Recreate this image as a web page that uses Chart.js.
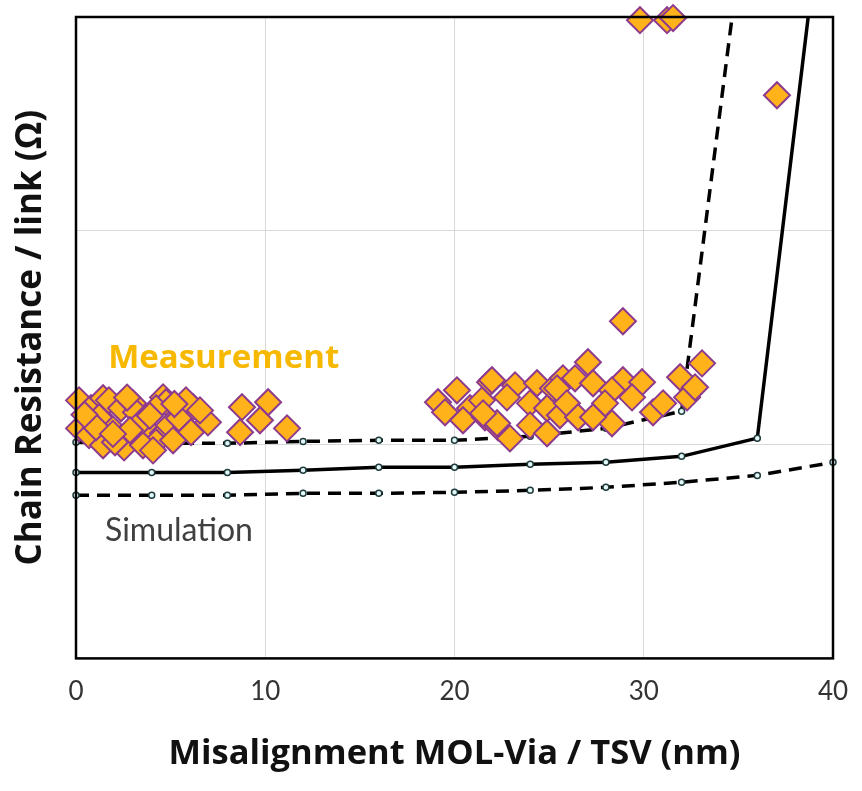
<!DOCTYPE html>
<html>
<head>
<meta charset="utf-8">
<script src="https://cdn.jsdelivr.net/npm/chart.js@4/dist/chart.umd.min.js"></script>
<style>
  html, body { margin: 0; padding: 0; background: #fff; }
  #wrap { width: 862px; height: 791px; }
</style>
</head>
<body>
<div id="wrap"><canvas id="chart"></canvas></div>
<script>
  'use strict';

  // measured points (misalignment nm, resistance in grid units)
  var measX = [
    0.16, 0.79, 1.43, 1.74, 2.38, 3.01, 3.17, 4.60, 4.76, 4.23, 6.18, 5.81, 6.97,
    0.16, 0.69, 1.74, 1.43, 2.38, 2.54, 3.70, 4.60, 4.23, 4.91, 5.44, 6.08, 3.54,
    4.07, 1.22, 3.54, 5.13, 1.06, 2.85, 2.06, 6.55, 0.45, 2.70, 3.90, 5.20, 1.95,
    8.77, 10.15, 9.72, 8.67, 11.15,
    19.13, 20.13, 19.50, 20.82, 20.45, 21.45, 21.88, 21.61, 22.30, 23.20, 22.77,
    22.93, 24.36, 23.99, 23.99, 24.89, 25.20, 24.89, 25.57, 25.73, 28.90, 27.05,
    21.98, 26.37, 25.42, 27.32, 28.90, 29.91, 28.32, 29.38, 27.95, 25.94, 26.53,
    28.32, 27.32, 22.25, 21.51, 30.49, 31.02, 31.92, 33.08, 32.29, 32.71,
    29.80, 31.23, 31.55, 37.04
  ];
  var measY = [
    1.207, 1.170, 1.217, 1.207, 1.170, 1.193, 1.151, 1.221, 1.198, 1.170, 1.175, 1.207, 1.104,
    1.076, 1.044, 1.090, 0.997, 1.029, 0.987, 1.076, 1.053, 1.011, 1.090, 1.123, 1.058, 0.997,
    0.973, 1.128, 1.114, 1.020, 1.081, 1.067, 1.011, 1.160, 1.140, 1.220, 1.135, 1.190, 1.050,
    1.175, 1.198, 1.114, 1.058, 1.076,
    1.198, 1.254, 1.151, 1.170, 1.114, 1.207, 1.292, 1.128, 1.081, 1.277, 1.221,
    1.029, 1.287, 1.193, 1.090, 1.053, 1.263, 1.170, 1.137, 1.310, 1.577, 1.385,
    1.301, 1.310, 1.263, 1.287, 1.301, 1.292, 1.254, 1.221, 1.193, 1.193, 1.128,
    1.100, 1.128, 1.100, 1.146, 1.151, 1.193, 1.315, 1.380, 1.221, 1.268,
    2.985, 2.985, 2.995, 2.634
  ];

  // simulation curves, sampled every 4 nm
  var simX = [0, 4, 8, 12, 16, 20, 24, 28, 32, 36, 40];
  var simNominal = [0.870, 0.870, 0.870, 0.880, 0.894, 0.894, 0.908, 0.917, 0.945, 1.030, 3.96];
  var simUpper = [1.011, 1.006, 1.006, 1.015, 1.020, 1.020, 1.039, 1.076, 1.156, 3.92];
  var simLower = [0.763, 0.763, 0.763, 0.772, 0.772, 0.777, 0.786, 0.800, 0.824, 0.856, 0.917];

  var xTicks = [0, 10, 20, 30, 40];

  var bodyFont = 'Lato, "Open Sans", sans-serif';
  var boldFont = '"Open Sans", Lato, sans-serif';

  function toPoints(xs, ys) {
    return ys.map(function(y, i) {
      return { x: xs[i], y: y };
    });
  }

  function simDataset(values, dashed) {
    return {
      type: 'line',
      data: toPoints(simX, values),
      borderColor: '#000',
      borderWidth: 3.5,
      borderDash: dashed ? [13, 8] : [],
      pointRadius: 3,
      pointBackgroundColor: '#e3f7f9',
      pointBorderColor: '#1f3b3b',
      pointBorderWidth: 1.5,
      tension: 0,
      clip: { left: 6, right: 6, top: 0, bottom: 6 }
    };
  }

  // frame around the plot area and the two text labels
  var framePlugin = {
    id: 'frame',
    afterDraw: function(chart) {
      var ctx = chart.ctx;
      var a = chart.chartArea;
      var x = chart.scales.x;
      var y = chart.scales.y;
      ctx.save();
      ctx.strokeStyle = '#000';
      ctx.lineWidth = 2.5;
      ctx.strokeRect(a.left, a.top, a.right - a.left, a.bottom - a.top);

      ctx.textBaseline = 'middle';
      ctx.textAlign = 'left';
      ctx.fillStyle = '#f7b800';
      ctx.font = 'bold 33px ' + boldFont;
      ctx.fillText('Measurement', x.getPixelForValue(1.7), y.getPixelForValue(1.404));

      ctx.fillStyle = '#404040';
      ctx.font = '32px ' + bodyFont;
      ctx.fillText('Simulation', x.getPixelForValue(1.53), y.getPixelForValue(0.599));
      ctx.restore();
    }
  };

  var ctx = document.getElementById('chart').getContext('2d');

  new Chart(ctx, {
    type: 'scatter',
    data: {
      datasets: [
        {
          label: 'Measurement',
          data: toPoints(measX, measY),
          pointStyle: 'rectRot',
          pointRadius: 13,
          pointHoverRadius: 13,
          backgroundColor: '#ffb219',
          borderColor: '#8e3a8e',
          borderWidth: 2,
          clip: false
        },
        simDataset(simUpper, true),
        simDataset(simNominal, false),
        simDataset(simLower, true)
      ]
    },
    options: {
      responsive: true,
      maintainAspectRatio: false,
      animation: false,
      layout: { padding: { left: 10, right: 29, top: 17, bottom: 16 } },
      plugins: {
        legend: { display: false },
        tooltip: { enabled: false }
      },
      scales: {
        x: {
          type: 'linear',
          min: 0,
          max: 40,
          afterBuildTicks: function(scale) {
            scale.ticks = xTicks.map(function(v) { return { value: v }; });
          },
          afterFit: function(scale) {
            scale.paddingRight = 0;
          },
          grid: { color: '#d9d9d9', lineWidth: 1, drawTicks: false },
          border: { display: false },
          ticks: {
            padding: 18,
            color: '#333',
            font: { family: bodyFont, size: 26 }
          },
          title: {
            display: true,
            text: 'Misalignment MOL-Via / TSV (nm)',
            color: '#111',
            padding: { top: 8, bottom: 0 },
            font: { family: boldFont, size: 34.5, weight: 'bold' }
          }
        },
        y: {
          type: 'linear',
          min: 0,
          max: 3,
          grid: { color: '#d9d9d9', lineWidth: 1, drawTicks: false },
          border: { display: false },
          ticks: { display: false, stepSize: 1 },
          title: {
            display: true,
            text: 'Chain Resistance / link (\u03a9)',
            color: '#111',
            padding: { top: 0, bottom: 24 },
            font: { family: boldFont, size: 35, weight: 'bold' }
          }
        }
      }
    },
    plugins: [framePlugin]
  });
</script>
</body>
</html>
